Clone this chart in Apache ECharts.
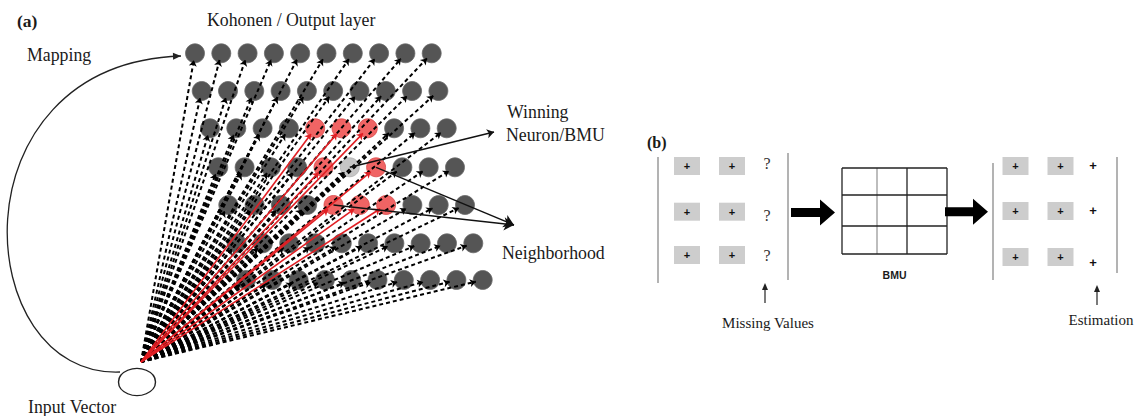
<!DOCTYPE html>
<html><head><meta charset="utf-8">
<script src="https://cdn.jsdelivr.net/npm/echarts@6/dist/echarts.min.js"></script>
<style>html,body{margin:0;padding:0;background:#fff}#chart{width:1137px;height:416px}</style>
</head><body><div id="chart"></div>
<script>
// ---------------- data ----------------
const somRows = [0, 1, 2, 3, 4, 5, 6];
const somCols = [0, 1, 2, 3, 4, 5, 6, 7, 8, 9];
const bmuCell = [3, 5];
const neighborhoodCells = [[2,4],[2,5],[2,6],[3,4],[3,6],[4,4],[4,5],[4,6]];
const pointerFromBmu = [bmuCell];
const pointerFromNeighbors = [[3,6],[4,4]];
const panelLabels = ['(a)', '(b)'];
const layerLabel = 'Kohonen / Output layer';
const mappingLabel = 'Mapping';
const winnerLabels = ['Winning', 'Neuron/BMU'];
const neighborhoodLabel = 'Neighborhood';
const inputLabel = 'Input Vector';
const matrixRows = [0, 1, 2];
const knownCols = [0, 1];
const knownMark = '+';
const missingMarks = ['?', '?', '?'];
const estimatedMarks = ['+', '+', '+'];
const bmuGridRows = [0, 1, 2];
const bmuGridCols = [0, 1, 2];
const bmuLabel = 'BMU';
const missingLabel = 'Missing Values';
const estimationLabel = 'Estimation';

// ---------------- layout (diagram units) ----------------
const L = {
  rowY: [53.3, 91, 128.3, 167.3, 205, 243.3, 280],
  rowX0: [195, 201.7, 210, 218.3, 228.3, 236.6, 246],
  colStep: 26.3,
  neuronSize: 19,
  arrowBack: 7,
  origin: [141, 362],
  inputCenter: [137, 382], inputSize: [37, 27],
  curve: {start: [120, 372], cp1: [-30, 378], cp2: [-50, 64], end: [181, 56]},
  bmuPointerEnd: [494, 132],
  nbPointerEnd: [514, 225],
  leftBoxX: [687, 732], leftRowY: [166, 211.7, 255],
  rightBoxX: [1015.5, 1060.5], rightRowY: [166, 211, 257],
  boxW: 26, boxH: 18,
  missingX: 767, missingY: [163, 215, 255],
  estX: 1093, estY: [165, 210, 262],
  leftBracket: [[658, 157, 283], [788, 153, 280]],
  rightBracket: [[993, 163, 280], [1117, 157, 273]],
  gridX: [842, 877, 907, 947], gridY: [168, 195, 226, 254],
  bigArrows: [[791, 835, 212.5], [945, 988, 211.7]],
  upArrows: [[765, 303, 283], [1097, 305, 285]]
};
const SERIF = "'Liberation Serif','Times New Roman',serif";
const SANS = "'Liberation Sans',Arial,sans-serif";

function neuronXY(r, c) { return [L.rowX0[r] + c * L.colStep, L.rowY[r]]; }
function isNeighbor(r, c) { return neighborhoodCells.some(p => p[0] === r && p[1] === c); }
function isBmu(r, c) { return r === bmuCell[0] && c === bmuCell[1]; }

const neuronData = [], dashData = [], redData = [];
somRows.forEach(r => somCols.forEach(c => {
  const p = neuronXY(r, c);
  let color = '#555555', border = '#6a6a6a';
  if (isBmu(r, c)) { color = '#c6c6c6'; border = '#b0b0b0'; }
  else if (isNeighbor(r, c)) { color = '#f06464'; border = '#d84848'; }
  neuronData.push({value: p, itemStyle: {color, borderColor: border, borderWidth: 0.8, opacity: 1}});
  const dx = p[0] - L.origin[0], dy = p[1] - L.origin[1], len = Math.hypot(dx, dy);
  const end = [p[0] - dx / len * L.arrowBack, p[1] - dy / len * L.arrowBack];
  if (isNeighbor(r, c)) redData.push({coords: [L.origin, end]});
  else if (isBmu(r, c)) dashData.push({coords: [L.origin, end], lineStyle: {width: 2.8}});
  else dashData.push({coords: [L.origin, end]});
}));

const pointerData = [];
pointerFromBmu.forEach(([r, c]) => pointerData.push({coords: [neuronXY(r, c), L.bmuPointerEnd], symbolSize: 7}));
pointerFromNeighbors.forEach(([r, c]) => pointerData.push({coords: [neuronXY(r, c), L.nbPointerEnd], symbolSize: 10}));

function custom(name, items, build, z) {
  return {type: 'custom', name, coordinateSystem: 'cartesian2d', clip: false, silent: true, z: z || 5,
    data: items.map(() => [0, 0]),
    renderItem: (params, api) => build(items[params.dataIndex], api)};
}
function txt(text, pos, size, opts) {
  return Object.assign({text, pos, size, family: SERIF, weight: 'normal', align: 'left', fill: '#1a1a1a'}, opts || {});
}
const texts = [
  txt(panelLabels[0], [17, 21], 17.5, {weight: 'bold'}),
  txt(layerLabel, [207, 20], 17.8),
  txt(mappingLabel, [27, 55], 17.8),
  txt(winnerLabels[0], [507, 112], 17.8),
  txt(winnerLabels[1], [506, 135], 17.8),
  txt(neighborhoodLabel, [502, 253], 17.8),
  txt(inputLabel, [28, 407], 17.8),
  txt(panelLabels[1], [647, 142], 16, {weight: 'bold'}),
  txt(bmuLabel, [894.5, 275], 10.5, {family: SANS, weight: 'bold', align: 'center'}),
  txt(missingLabel, [768, 323], 15, {align: 'center'}),
  txt(estimationLabel, [1101, 320], 15, {align: 'center'})
];
missingMarks.forEach((m, i) => texts.push(txt(m, [L.missingX, L.missingY[i]], 16, {align: 'center', fill: '#333'})));
estimatedMarks.forEach((m, i) => texts.push(txt(m, [L.estX, L.estY[i]], 13, {family: SANS, weight: 'bold', align: 'center', fill: '#111'})));

const boxes = [];
matrixRows.forEach(r => knownCols.forEach(c => {
  boxes.push({x: L.leftBoxX[c], y: L.leftRowY[r]});
  boxes.push({x: L.rightBoxX[c], y: L.rightRowY[r]});
}));

const segs = [];
L.leftBracket.concat(L.rightBracket).forEach(([x, y0, y1]) => segs.push({a: [x, y0], b: [x, y1], color: '#808080', w: 1.2}));
bmuGridCols.concat([3]).forEach(i => segs.push({a: [L.gridX[i], L.gridY[0]], b: [L.gridX[i], L.gridY[3]], color: i === 1 ? '#9a9a9a' : '#222', w: 1.3}));
bmuGridRows.concat([3]).forEach(i => segs.push({a: [L.gridX[0], L.gridY[i]], b: [L.gridX[3], L.gridY[i]], color: '#222', w: 1.3}));

const option = {
  animation: false,
  backgroundColor: '#fff',
  grid: {left: 0, right: 0, top: 0, bottom: 0},
  xAxis: {type: 'value', min: 0, max: 1137, show: false},
  yAxis: {type: 'value', min: 0, max: 416, inverse: true, show: false},
  series: [
    {type: 'scatter', name: 'neurons', data: neuronData, symbol: 'circle', symbolSize: L.neuronSize, z: 2, silent: true},
    {type: 'lines', name: 'weights', coordinateSystem: 'cartesian2d', data: dashData, z: 3, silent: true,
      symbol: ['none', 'arrow'], symbolSize: 6,
      lineStyle: {color: '#000', width: 2, type: [4, 3], opacity: 1}},
    {type: 'lines', name: 'neighborhood updates', coordinateSystem: 'cartesian2d', data: redData, z: 4, silent: true,
      symbol: ['none', 'arrow'], symbolSize: 6,
      lineStyle: {color: '#e01f24', width: 1.6, opacity: 1}},
    {type: 'lines', name: 'pointers', coordinateSystem: 'cartesian2d', data: pointerData, z: 5, silent: true,
      symbol: ['none', 'arrow'], symbolSize: 8,
      lineStyle: {color: '#111', width: 1.4, opacity: 1}},
    {type: 'scatter', name: 'input', data: [L.inputCenter], symbol: 'circle', symbolSize: L.inputSize, z: 5, silent: true,
      itemStyle: {color: '#fff', borderColor: '#222', borderWidth: 1.2, opacity: 1}},
    custom('mapping', [L.curve], (c, api) => {
      const p0 = api.coord(c.start), c1 = api.coord(c.cp1), c2 = api.coord(c.cp2), p3 = api.coord(c.end);
      const ang = Math.atan2(p3[1] - c2[1], p3[0] - c2[0]);
      const hl = 8, hw = 3.5;
      const bx = p3[0] - Math.cos(ang) * hl, by = p3[1] - Math.sin(ang) * hl;
      return {type: 'group', children: [
        {type: 'bezierCurve', shape: {x1: p0[0], y1: p0[1], cpx1: c1[0], cpy1: c1[1], cpx2: c2[0], cpy2: c2[1], x2: p3[0], y2: p3[1]},
          style: {stroke: '#222', fill: null, lineWidth: 1.3}},
        {type: 'polygon', shape: {points: [p3, [bx - Math.sin(ang) * hw, by + Math.cos(ang) * hw], [bx + Math.sin(ang) * hw, by - Math.cos(ang) * hw]]},
          style: {fill: '#222'}}
      ]};
    }),
    custom('boxes', boxes, (b, api) => {
      const p = api.coord([b.x, b.y]);
      return {type: 'group', children: [
        {type: 'rect', shape: {x: p[0] - L.boxW / 2, y: p[1] - L.boxH / 2, width: L.boxW, height: L.boxH}, style: {fill: '#cdcdcd'}},
        {type: 'text', x: p[0], y: p[1], style: {text: knownMark, fontFamily: SANS, fontWeight: 'bold', fontSize: 11, fill: '#111', align: 'center', verticalAlign: 'middle'}}
      ]};
    }),
    custom('segments', segs, (s, api) => {
      const a = api.coord(s.a), b = api.coord(s.b);
      return {type: 'line', shape: {x1: a[0], y1: a[1], x2: b[0], y2: b[1]}, style: {stroke: s.color, lineWidth: s.w}};
    }),
    custom('big arrows', L.bigArrows, (a, api) => {
      const p0 = api.coord([a[0], a[2]]), p1 = api.coord([a[1], a[2]]);
      const y = p0[1], hl = 15, sh = 4.5, hh = 13;
      return {type: 'polygon', shape: {points: [
        [p0[0], y - sh], [p1[0] - hl, y - sh], [p1[0] - hl, y - hh], [p1[0], y],
        [p1[0] - hl, y + hh], [p1[0] - hl, y + sh], [p0[0], y + sh]]}, style: {fill: '#000'}};
    }),
    custom('up arrows', L.upArrows, (a, api) => {
      const b = api.coord([a[0], a[1]]), t = api.coord([a[0], a[2]]);
      return {type: 'group', children: [
        {type: 'line', shape: {x1: b[0], y1: b[1], x2: t[0], y2: t[1] + 5}, style: {stroke: '#222', lineWidth: 1.2}},
        {type: 'polygon', shape: {points: [t, [t[0] - 3, t[1] + 7], [t[0] + 3, t[1] + 7]]}, style: {fill: '#222'}}
      ]};
    }),
    custom('labels', texts, (t, api) => {
      const p = api.coord(t.pos);
      return {type: 'text', x: p[0], y: p[1], style: {text: t.text, fontFamily: t.family, fontSize: t.size, fontWeight: t.weight,
        fill: t.fill, align: t.align, verticalAlign: 'middle'}};
    }, 10)
  ]
};
const chart = echarts.init(document.getElementById('chart'), null, {renderer: 'svg'});
chart.setOption(option);
</script>
</body></html>
